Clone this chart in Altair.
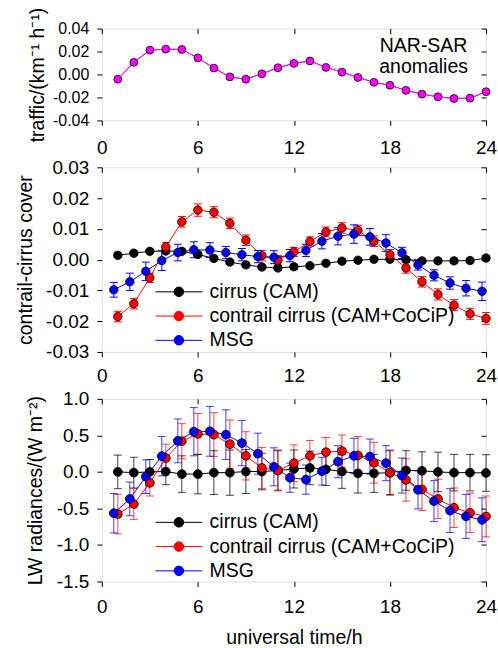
import altair as alt
import pandas as pd

# ---------------- data ----------------
hours = list(range(1, 25))
x_ticks = [0, 6, 12, 18, 24]

traffic_anomaly = [-0.0041, 0.0106, 0.0212, 0.0221, 0.0218, 0.0144, 0.0056, -0.0021,
                   -0.0041, 0.0006, 0.0059, 0.0097, 0.0118, 0.0062, 0.0021, -0.0026,
                   -0.0068, -0.0094, -0.0138, -0.0171, -0.0194, -0.0209, -0.0206, -0.0150]

cover_cam = [0.0014, 0.0021, 0.0027, 0.0028, 0.0027, 0.0017, 0.0004, -0.0008,
             -0.0017, -0.0024, -0.0027, -0.0023, -0.0020, -0.0012, -0.0005, -0.0002,
             0.0001, 0.0001, 0.0000, -0.0004, -0.0004, -0.0004, -0.0003, 0.0005]
cover_cam_err = [0.0007, 0.0006, 0.0006, 0.0006, 0.0007, 0.0007, 0.0007, 0.0007,
                 0.0007, 0.0007, 0.0008, 0.0008, 0.0007, 0.0006, 0.0006, 0.0006,
                 0.0006, 0.0007, 0.0008, 0.0007, 0.0007, 0.0007, 0.0007, 0.0008]
cover_cocip = [-0.0185, -0.0143, -0.0059, 0.0041, 0.0123, 0.0161, 0.0154, 0.0118,
               0.0063, 0.0013, -0.0002, 0.0025, 0.0059, 0.0090, 0.0103, 0.0095,
               0.0060, 0.0016, -0.0027, -0.0072, -0.0113, -0.0148, -0.0176, -0.0191]
cover_cocip_err = [0.0017, 0.0017, 0.0015, 0.0015, 0.0017, 0.0020, 0.0018, 0.0017,
                   0.0017, 0.0017, 0.0015, 0.0015, 0.0015, 0.0016, 0.0017, 0.0017,
                   0.0017, 0.0017, 0.0017, 0.0017, 0.0018, 0.0018, 0.0018, 0.0019]
cover_msg = [-0.0098, -0.0072, -0.0038, -0.0003, 0.0023, 0.0032, 0.0031, 0.0023,
             0.0016, 0.0010, 0.0008, 0.0013, 0.0030, 0.0060, 0.0076, 0.0083,
             0.0074, 0.0054, 0.0022, -0.0017, -0.0051, -0.0076, -0.0093, -0.0103]
cover_msg_err = [0.0024, 0.0028, 0.0030, 0.0032, 0.0027, 0.0026, 0.0024, 0.0020,
                 0.0020, 0.0020, 0.0021, 0.0020, 0.0020, 0.0025, 0.0028, 0.0030,
                 0.0027, 0.0027, 0.0018, 0.0017, 0.0018, 0.0020, 0.0025, 0.0030]

lw_cam = [0.00, -0.01, 0.00, 0.005, -0.03, -0.03, -0.01, -0.01,
          0.005, 0.005, 0.02, 0.04, 0.055, 0.035, 0.005, -0.02,
          -0.02, -0.01, 0.02, 0.015, 0.00, -0.01, -0.01, -0.015]
lw_cam_err = [0.23, 0.21, 0.17, 0.18, 0.25, 0.27, 0.30, 0.31,
              0.30, 0.25, 0.27, 0.26, 0.23, 0.22, 0.23, 0.27,
              0.26, 0.30, 0.27, 0.26, 0.27, 0.25, 0.25, 0.25]
lw_cocip = [-0.578, -0.44, -0.15, 0.19, 0.42, 0.52, 0.51, 0.38,
            0.22, 0.055, 0.02, 0.12, 0.22, 0.27, 0.285, 0.225,
            0.125, -0.01, -0.11, -0.24, -0.37, -0.49, -0.56, -0.61]
lw_cocip_err = [0.27, 0.21, 0.18, 0.19, 0.24, 0.28, 0.30, 0.33,
                0.33, 0.28, 0.28, 0.25, 0.21, 0.20, 0.22, 0.26,
                0.28, 0.31, 0.29, 0.29, 0.27, 0.27, 0.27, 0.28]
lw_msg = [-0.565, -0.37, -0.065, 0.215, 0.425, 0.55, 0.555, 0.51,
          0.395, 0.25, 0.07, -0.08, -0.105, 0.01, 0.14, 0.22,
          0.21, 0.12, -0.05, -0.245, -0.40, -0.53, -0.61, -0.655]
lw_msg_err = [0.27, 0.23, 0.23, 0.27, 0.30, 0.33, 0.34, 0.34,
              0.31, 0.28, 0.26, 0.20, 0.20, 0.19, 0.22, 0.24,
              0.24, 0.24, 0.24, 0.26, 0.28, 0.30, 0.30, 0.30]

series_names = ["cirrus (CAM)", "contrail cirrus (CAM+CoCiP)", "MSG"]
series_colors = ["#000000", "#FF0000", "#0000FF"]
series_time_shift = [0.0, 0.0, -0.25]

traffic_ticks = [-0.04, -0.02, 0.0, 0.02, 0.04]
cover_ticks = [-0.03, -0.02, -0.01, 0.0, 0.01, 0.02, 0.03]
lw_ticks = [-1.5, -1.0, -0.5, 0.0, 0.5, 1.0]

note_text = ["NAR-SAR\nanomalies"]
note_t = [20.1]
note_v = [0.0193]

# ---------------- styling ----------------
FONT = "Liberation Sans"
W = 385
MINUS = "\u2212"
LEGEND_PATH = "M-4.7,0L4.7,0M-0.95,0A0.95,0.95,0,1,0,0.95,0A0.95,0.95,0,1,0,-0.95,0Z"


def make_long(values_list, errs_list):
    rows = []
    for name, shift, vals, errs in zip(series_names, series_time_shift, values_list, errs_list):
        for h, v, e in zip(hours, vals, errs):
            rows.append({"series": name, "t": h + shift, "v": v, "lo": v - e, "hi": v + e})
    return pd.DataFrame(rows)


x_scale = alt.Scale(domain=[0, 24], nice=False, zero=False)


def x_bottom_axis(label_pad, title):
    kw = dict(orient="bottom", values=x_ticks, format="d", domain=False, grid=False,
              ticks=True, tickSize=5, tickColor="black", labelFont=FONT, labelFontSize=19,
              labelColor="black", labelPadding=label_pad, labelFlush=False, labelOverlap=False)
    if title:
        kw.update(title=title, titleFont=FONT, titleFontSize=19.5, titleFontWeight="normal",
                  titleColor="black", titlePadding=12)
    else:
        kw.update(title=None)
    return alt.Axis(**kw)


def x_top_axis():
    return alt.Axis(orient="top", values=x_ticks, labels=False, domain=False, grid=False,
                    ticks=True, tickSize=5, tickColor="black", offset=-5, title=None)


def y_left_axis(values, fmt, title, title_x, label_size):
    return alt.Axis(orient="left", values=values,
                    labelExpr=f"replace(format(datum.value, '{fmt}'), '{MINUS}', '-')",
                    domain=False, grid=False, ticks=True, tickSize=5, tickColor="black",
                    labelFont=FONT, labelFontSize=label_size, labelColor="black",
                    labelPadding=8, labelFlush=False, labelOverlap=False,
                    title=title, titleFont=FONT, titleFontSize=19.5, titleFontWeight="normal",
                    titleColor="black", titleX=title_x, titleBaseline="alphabetic")


def y_right_axis(values):
    return alt.Axis(orient="right", values=values, labels=False, domain=False, grid=False,
                    ticks=True, tickSize=5, tickColor="black", offset=-5, title=None)


def series_legend(legend_y):
    return alt.Legend(title=None, orient="none", legendX=67.5, legendY=legend_y,
                      symbolType=LEGEND_PATH, symbolSize=100, symbolStrokeWidth=1,
                      symbolOpacity=1, labelFont=FONT, labelFontSize=19.5, labelColor="black",
                      labelOffset=21, rowPadding=3.3, padding=0, labelLimit=400)


def series_panel(df, y_dom, y_vals, fmt, y_title, title_x, x_title, x_label_pad,
                 height, pt_size, err_opacity, legend_y):
    y_scale = alt.Scale(domain=y_dom, nice=False, zero=False)
    col_scale = alt.Scale(domain=series_names, range=series_colors)
    leg = series_legend(legend_y)
    base = alt.Chart(df)

    # line layer first: it carries the main axes and the legend definition
    line = base.mark_line(strokeWidth=1).encode(
        x=alt.X("t:Q", scale=x_scale, axis=x_bottom_axis(x_label_pad, x_title)),
        y=alt.Y("v:Q", scale=y_scale, axis=y_left_axis(y_vals, fmt, y_title, title_x, 19)),
        color=alt.Color("series:N", scale=col_scale, legend=leg),
    )
    err = base.mark_rule(strokeWidth=1, opacity=err_opacity).encode(
        x=alt.X("t:Q", scale=x_scale, axis=x_top_axis()),
        y=alt.Y("lo:Q", scale=y_scale, axis=y_right_axis(y_vals)),
        y2="hi:Q",
        color=alt.Color("series:N", scale=col_scale, legend=leg),
    )
    cap_lo = base.mark_tick(orient="horizontal", size=8, thickness=1, opacity=err_opacity).encode(
        x=alt.X("t:Q", scale=x_scale, axis=None),
        y=alt.Y("lo:Q", scale=y_scale, axis=None),
        color=alt.Color("series:N", scale=col_scale, legend=leg),
    )
    cap_hi = base.mark_tick(orient="horizontal", size=8, thickness=1, opacity=err_opacity).encode(
        x=alt.X("t:Q", scale=x_scale, axis=None),
        y=alt.Y("hi:Q", scale=y_scale, axis=None),
        color=alt.Color("series:N", scale=col_scale, legend=leg),
    )
    pts = base.mark_point(filled=True, shape="circle", size=pt_size, stroke="black",
                          strokeWidth=0.8, opacity=1).encode(
        x=alt.X("t:Q", scale=x_scale, axis=None),
        y=alt.Y("v:Q", scale=y_scale, axis=None),
        color=alt.Color("series:N", scale=col_scale, legend=leg),
    )
    return alt.layer(line, err, cap_lo, cap_hi, pts).resolve_axis(
        x="independent", y="independent").properties(width=W, height=height)


# ---------------- top panel: traffic anomalies ----------------
traffic_df = pd.DataFrame({"t": hours, "v": traffic_anomaly})
note_df = pd.DataFrame({"t": note_t, "v": note_v, "note": note_text})
y_top = alt.Scale(domain=[-0.04, 0.04], nice=False, zero=False)

top_line = alt.Chart(traffic_df).mark_line(color="#FF00FF", strokeWidth=1).encode(
    x=alt.X("t:Q", scale=x_scale, axis=x_bottom_axis(13, None)),
    y=alt.Y("v:Q", scale=y_top,
            axis=y_left_axis(traffic_ticks, ".2f", "traffic/(km\u207b\u00b9 h\u207b\u00b9)", -58.5, 16)),
)
top_frame = alt.Chart(traffic_df).mark_line(color="#FF00FF", strokeWidth=1).encode(
    x=alt.X("t:Q", scale=x_scale, axis=x_top_axis()),
    y=alt.Y("v:Q", scale=y_top, axis=y_right_axis(traffic_ticks)),
)
top_pts = alt.Chart(traffic_df).mark_point(filled=True, shape="circle", size=62, fill="#FF00FF",
                                           stroke="black", strokeWidth=0.8, opacity=1).encode(
    x=alt.X("t:Q", scale=x_scale, axis=None),
    y=alt.Y("v:Q", scale=y_top, axis=None),
)
top_note = alt.Chart(note_df).mark_text(font=FONT, fontSize=19.5, align="center",
                                        baseline="alphabetic", lineBreak="\n", lineHeight=21,
                                        color="black").encode(
    x=alt.X("t:Q", scale=x_scale, axis=None),
    y=alt.Y("v:Q", scale=y_top, axis=None),
    text="note:N",
)
top = alt.layer(top_line, top_frame, top_pts, top_note).resolve_axis(
    x="independent", y="independent").properties(width=W, height=92)

# ---------------- middle panel: contrail-cirrus cover ----------------
cover_df = make_long([cover_cam, cover_cocip, cover_msg],
                     [cover_cam_err, cover_cocip_err, cover_msg_err])
mid = series_panel(cover_df, [-0.03, 0.03], cover_ticks, ".2f", "contrail-cirrus cover", -70,
                   None, 10, 185, 72, 1.0, 115)

# ---------------- bottom panel: LW radiances ----------------
lw_df = make_long([lw_cam, lw_cocip, lw_msg], [lw_cam_err, lw_cocip_err, lw_msg_err])
bot = series_panel(lw_df, [-1.5, 1.0], lw_ticks, ".1f", "LW radiances/(W m\u207b\u00b2)", -60,
                   "universal time/h", 11, 183, 78, 0.75, 114)

chart = alt.vconcat(top, mid, bot, spacing=47, bounds="flush").resolve_scale(
    color="independent"
).properties(
    padding={"left": 15, "top": 6, "right": 0, "bottom": 0}
).configure_view(stroke="black", strokeWidth=1).configure(background="white")

chart.save("out.html", embed_options={"renderer": "svg", "actions": False})
